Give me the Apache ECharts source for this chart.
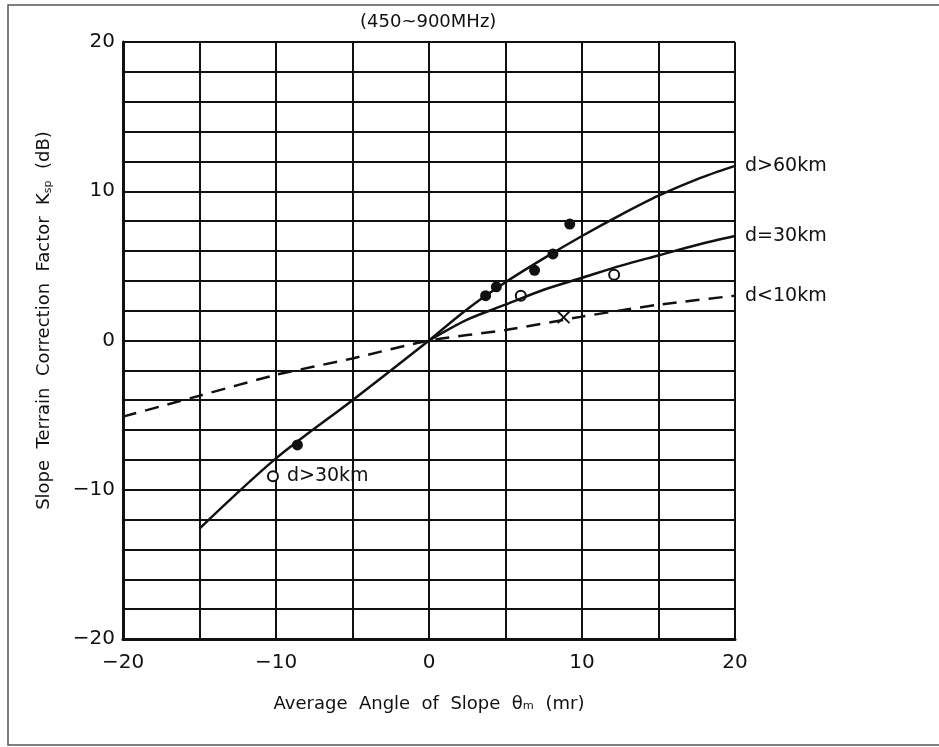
<!DOCTYPE html>
<html>
<head>
<meta charset="utf-8">
<script src="https://cdn.jsdelivr.net/npm/echarts@6/dist/echarts.min.js"></script>
<style>
html, body { margin: 0; padding: 0; background: #fff; }
#main { width: 939px; height: 747px; }
</style>
</head>
<body>
<div id="main"></div>
<script>
// 曲线数据
var far60X = [0, 2.5, 5, 7.5, 10, 12.5, 15, 17.5, 20];
var far60Y = [0, 2.1, 3.9, 5.5, 7.0, 8.4, 9.7, 10.8, 11.7];
var negX = [-15, -10, -5, 0];
var negY = [-12.6, -7.9, -4.0, 0];
var mid30X = [0, 2.5, 5, 7.5, 10, 12.5, 15, 17.5, 20];
var mid30Y = [0, 1.4, 2.4, 3.4, 4.2, 5.0, 5.7, 6.4, 7.0];
var near10X = [-20, -15, -10, -5, 0, 5, 10, 15, 20];
var near10Y = [-5.1, -3.7, -2.3, -1.2, 0, 0.7, 1.6, 2.4, 3.0];
// 测量点
var filledX = [-8.6, 3.7, 4.4, 6.9, 8.1, 9.2];
var filledY = [-7.0, 3.0, 3.6, 4.7, 5.8, 7.8];
var openX = [-10.2, 6.0, 12.1];
var openY = [-9.1, 3.0, 4.4];
var crossX = [8.8];
var crossY = [1.55];
var curveNames = ['d>60km', 'd=30km', 'd<10km'];
var tickLabels = [-20, -10, 0, 10, 20];

function pairs(xs, ys) {
	return xs.map(function (x, i) { return [x, ys[i]]; });
}

var font = '"DejaVu Sans", Lato, sans-serif';
var ink = '#111';
var dom = document.getElementById('main');
var myChart = echarts.init(dom);

var lineBase = {
	type: 'line',
	smooth: 0.3,
	showSymbol: false,
	silent: true,
	lineStyle: { color: ink, width: 2.5 }
};

function curve(data, opts) {
	return Object.assign({}, lineBase, { data: data }, opts || {});
}

function endLabel(text) {
	return {
		show: true,
		formatter: text,
		color: ink,
		fontFamily: font,
		fontSize: 19,
		distance: 10
	};
}

function tickFmt(v) {
	if (tickLabels.indexOf(v) < 0) return '';
	return v < 0 ? '\u2212' + Math.abs(v) : String(v);
}

var option = {
	backgroundColor: '#fff',
	animation: false,
	title: {
		text: '(450~900MHz)',
		left: 355,
		top: 8,
		textStyle: { fontFamily: font, fontSize: 18, fontWeight: 'normal', color: ink }
	},
	graphic: [{
		type: 'rect',
		shape: { x: 8, y: 5, width: 1000, height: 740 },
		style: { fill: 'none', stroke: '#555', lineWidth: 1.5 },
		silent: true
	}],
	grid: { left: 123, top: 42, width: 612, height: 597 },
	xAxis: {
		type: 'value',
		min: -20, max: 20, interval: 5,
		name: 'Average  Angle  of  Slope  θ\u2098  (mr)',
		nameLocation: 'middle',
		nameGap: 56,
		nameTextStyle: { fontFamily: font, fontSize: 18, color: ink },
		axisLine: { show: true, onZero: false, lineStyle: { color: ink, width: 3 } },
		axisTick: { show: false },
		axisLabel: { fontFamily: font, fontSize: 20, color: ink, margin: 14, formatter: tickFmt },
		splitLine: { show: true, lineStyle: { color: ink, width: 2 } }
	},
	yAxis: {
		type: 'value',
		min: -20, max: 20, interval: 2,
		name: '{t|Slope  Terrain  Correction  Factor  K}{s|sp}{t|  (dB)}',
		nameLocation: 'middle',
		nameGap: 70,
		nameRotate: 90,
		nameTextStyle: {
			padding: [0, 0, 0, 40],
			rich: {
				t: { fontFamily: font, fontSize: 18, color: ink },
				s: { fontFamily: font, fontSize: 11, color: ink, padding: [0, 0, -8, 0] }
			}
		},
		axisLine: { show: true, onZero: false, lineStyle: { color: ink, width: 3 } },
		axisTick: { show: false },
		axisLabel: { fontFamily: font, fontSize: 20, color: ink, margin: 8, formatter: tickFmt },
		splitLine: { show: true, lineStyle: { color: ink, width: 2 } }
	},
	series: [
		curve(pairs(far60X, far60Y), { name: curveNames[0], endLabel: endLabel(curveNames[0]) }),
		curve(pairs(negX, negY), { name: 'neg' }),
		curve(pairs(mid30X, mid30Y), { name: curveNames[1], endLabel: endLabel(curveNames[1]) }),
		curve(pairs(near10X, near10Y), {
			name: curveNames[2],
			smooth: 0.2,
			lineStyle: { color: ink, width: 2.5, type: [14, 9] },
			endLabel: endLabel(curveNames[2])
		}),
		{
			type: 'scatter',
			silent: true,
			symbol: 'circle',
			symbolSize: 11,
			itemStyle: { color: ink, opacity: 1 },
			data: pairs(filledX, filledY)
		},
		{
			type: 'scatter',
			silent: true,
			symbol: 'circle',
			symbolSize: 10,
			itemStyle: { color: '#fff', borderColor: ink, borderWidth: 2, opacity: 1 },
			data: pairs(openX, openY).map(function (p, i) {
				if (i === 0) {
					return {
						value: p,
						label: {
							show: true, position: 'right', distance: 8,
							formatter: 'd>30km', fontFamily: font, fontSize: 19, color: ink
						}
					};
				}
				return p;
			})
		},
		{
			type: 'scatter',
			silent: true,
			symbol: 'path://M0,1L1,0L5,4L9,0L10,1L6,5L10,9L9,10L5,6L1,10L0,9L4,5Z',
			symbolSize: 13,
			itemStyle: { color: ink, opacity: 1 },
			data: pairs(crossX, crossY)
		}
	]
};

if (option && typeof option === 'object') {
	myChart.setOption(option, true);
}
</script>
</body>
</html>
